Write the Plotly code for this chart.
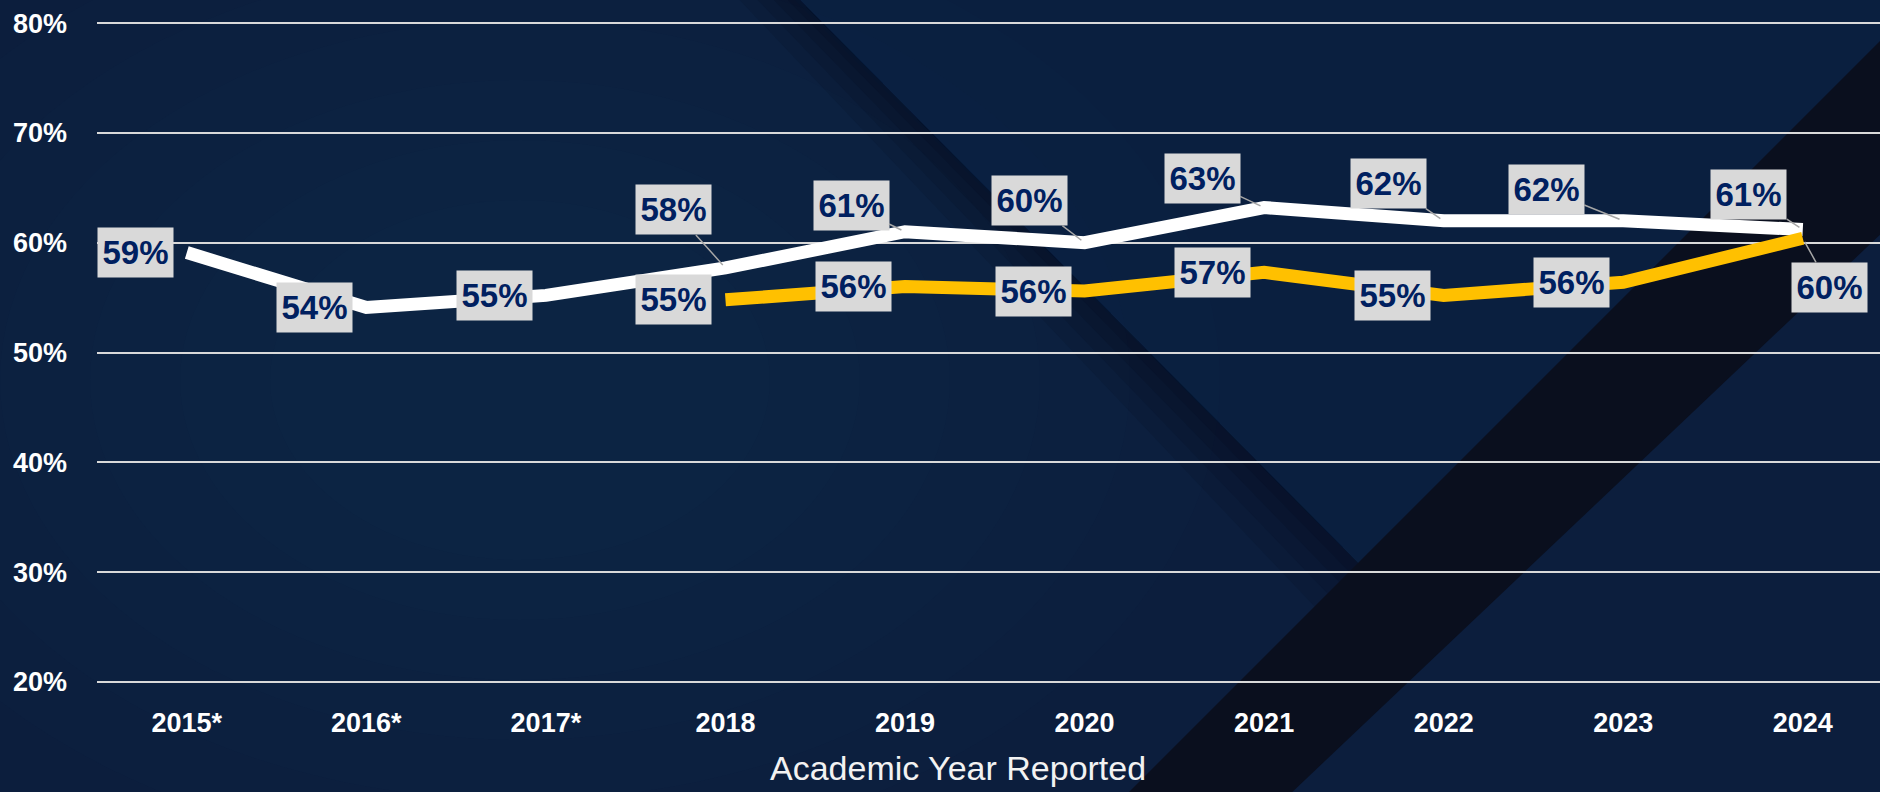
import plotly.graph_objects as go

# ---------------- data ----------------
years = ["2015*", "2016*", "2017*", "2018", "2019", "2020", "2021", "2022", "2023", "2024"]
white_vals = [0.591, 0.541, 0.552, 0.577, 0.610, 0.600, 0.632, 0.620, 0.620, 0.612]
gold_vals = [None, None, None, 0.548, 0.560, 0.556, 0.573, 0.552, 0.564, 0.604]
y_ticks = [0.2, 0.3, 0.4, 0.5, 0.6, 0.7, 0.8]
axis_title = "Academic Year Reported"

# ---------------- style ----------------
W, H = 1880, 792
L, R, T, B = 97, 1880, 22, 683
BOLD = "Liberation Sans, Arial, sans-serif"
LABEL_BG = "#d9d9d9"
LABEL_FG = "#002060"
LEADER = "#a6a6a6"

# label placement: None -> box to the left of the point, else (ax, ay) pixel offset with leader
white_offsets = [None, None, None, (-52, -58), (-54, -26), (-55, -42), (-62, -29), (-55, -37), (-77, -31), (-54, -35)]
gold_offsets = [None, None, None, None, None, None, None, None, None, (27, 49)]


def px(x):
    return (x - L) / (R - L)


def py(y):
    return (B - y) / (B - T)


def path(points):
    return "M " + " L ".join(f"{px(x):.4f},{py(y):.4f}" for x, y in points) + " Z"


fig = go.Figure()

fig.add_trace(go.Scatter(
    x=years, y=white_vals, mode="lines",
    line=dict(color="#ffffff", width=13), hoverinfo="skip", showlegend=False))
fig.add_trace(go.Scatter(
    x=years, y=gold_vals, mode="lines",
    line=dict(color="#ffc000", width=13), hoverinfo="skip", showlegend=False))

annotations = []
for vals, offs in ((white_vals, white_offsets), (gold_vals, gold_offsets)):
    for i, (v, off) in enumerate(zip(vals, offs)):
        if v is None:
            continue
        common = dict(
            x=i, y=v, text=f"{round(v * 100):.0f}%",
            font=dict(family=BOLD, size=33, color=LABEL_FG, weight="bold"),
            bgcolor=LABEL_BG, width=75, height=49, borderpad=0,
        )
        if off is None:
            annotations.append(dict(**common, showarrow=False, xanchor="right", xshift=-13, yanchor="middle"))
        else:
            annotations.append(dict(**common, showarrow=True, ax=off[0], ay=off[1],
                                    arrowhead=0, arrowwidth=1.5, arrowcolor=LEADER, standoff=4))

annotations.append(dict(
    x=px(958), y=py(768), xref="paper", yref="paper", text=axis_title, showarrow=False,
    xanchor="center", yanchor="middle",
    font=dict(family=BOLD, size=34, color="#f2f2f2")))

# decorative background
shapes = []
# soft glow left-centre
cx, cy = 520, 380
for k in range(6):
    rx, ry = 700 - k * 90, 480 - k * 60
    shapes.append(dict(type="circle", xref="paper", yref="paper",
                       x0=px(cx - rx), x1=px(cx + rx), y0=py(cy + ry), y1=py(cy - ry),
                       fillcolor="rgba(40,80,140,0.025)", line=dict(width=0), layer="below"))
# triangle above the V
shapes.append(dict(type="path", xref="paper", yref="paper",
                   path=path([(790, -5), (1885, -5), (1885, 38), (1358, 563)]),
                   fillcolor="rgba(8,34,70,0.35)", line=dict(width=0), layer="below"))
# soft shadow strip along the left diagonal
for off, a in ((60, 0.14), (42, 0.16), (26, 0.18), (12, 0.2)):
    shapes.append(dict(type="path", xref="paper", yref="paper",
                       path=path([(795 - off, -5), (795, -5), (1360, 565), (1360 - off * 0.75, 565 + off * 0.7)]),
                       fillcolor=f"rgba(6,12,30,{a})", line=dict(width=0), layer="below"))
# dark band rising to the top right
shapes.append(dict(type="path", xref="paper", yref="paper",
                   path=path([(1124, 797), (1885, 36), (1885, 230), (1287, 797)]),
                   fillcolor="#0a0f1e", line=dict(width=0), layer="below"))

fig.update_layout(
    width=W, height=H,
    margin=dict(l=L, r=W - R, t=T, b=H - B, pad=0),
    paper_bgcolor="#0c1e3d",
    plot_bgcolor="rgba(0,0,0,0)",
    showlegend=False,
    annotations=annotations,
    shapes=shapes,
    xaxis=dict(
        type="category", range=[-0.5, 9.43],
        showgrid=False, zeroline=False, showline=False, ticks="",
        tickfont=dict(family=BOLD, size=27, color="#ffffff", weight="bold"),
        ticklabelstandoff=21, fixedrange=True,
    ),
    yaxis=dict(
        range=[0.199, 0.801], tickvals=y_ticks, tickformat=".0%",
        showgrid=True, gridcolor="#d9d9d9", gridwidth=2,
        zeroline=False, showline=False, ticks="",
        tickfont=dict(family=BOLD, size=27, color="#ffffff", weight="bold"),
        ticklabelstandoff=29, fixedrange=True,
    ),
)

fig.write_html(
    "out.html",
    config={"displayModeBar": False},
    post_script="document.body.style.margin='0';document.body.style.background='#0c1e3d';",
)
